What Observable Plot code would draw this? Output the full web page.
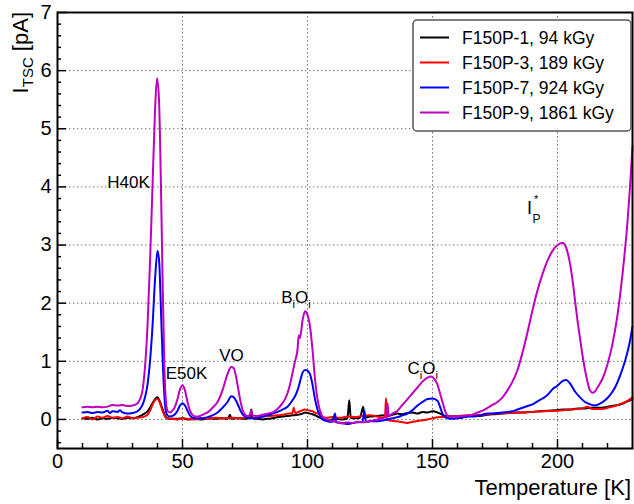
<!DOCTYPE html>
<html><head><meta charset="utf-8">
<script src="https://cdn.jsdelivr.net/npm/d3@7"></script>
<script src="https://cdn.jsdelivr.net/npm/@observablehq/plot@0.6"></script>
<style>body{margin:0;background:#fff} svg{display:block}</style>
</head><body><div id="chart"></div>
<script>
const seriesNames = ["F150P-1, 94 kGy", "F150P-3, 189 kGy", "F150P-7, 924 kGy", "F150P-9, 1861 kGy"];
const seriesColors = ["#000000", "#ff0000", "#0000ff", "#c000c0"];

// [Temperature K, I_TSC pA]
const f150p1 = [[10,0.02],[12,0.01],[14,0.03],[16,0.0],[18,0.02],[20,0.01],[22,0.03],[24,0.02],[26,0.01],[28,0.03],[30,0.02],[32,0.04],[34,0.08],[36,0.14],[37,0.2],[38,0.28],[39,0.35],[40,0.38],[41,0.3],[42,0.18],[43,0.07],[44,0.02],[46,0.01],[48,0.01],[50,0.02],[52,0.0],[55,0.01],[58,0.0],[60,0.02],[63,0.01],[66,0.02],[68,0.01],[69,0.08],[69.5,0.01],[72,0.02],[75,0.01],[77,0.03],[77.5,0.17],[78,0.02],[80,0.01],[82,0.0],[84,0.01],[86,0.02],[88,0.04],[90,0.05],[92,0.06],[94,0.07],[96,0.08],[98,0.1],[99,0.12],[100,0.11],[102,0.09],[104,0.05],[106,0.01],[108,-0.01],[110,0.0],[112,0.01],[114,0.0],[116,0.02],[116.7,0.33],[117.3,0.03],[119,0.02],[121,0.03],[122.3,0.22],[122.8,0.03],[125,0.05],[128,0.06],[130,0.07],[132,0.06],[134,0.08],[136,0.1],[138,0.09],[140,0.11],[142,0.12],[144,0.1],[146,0.13],[148,0.12],[150,0.14],[152,0.12],[154,0.08],[156,0.05],[158,0.05],[160,0.06],[163,0.05],[166,0.07],[169,0.06],[172,0.08],[175,0.09],[178,0.1],[181,0.11],[184,0.12],[187,0.12],[190,0.13],[193,0.14],[196,0.15],[199,0.16],[202,0.17],[205,0.17],[208,0.19],[211,0.19],[214,0.2],[217,0.2],[220,0.22],[223,0.24],[226,0.27],[228,0.31],[230,0.35]];
const f150p3 = [[10,0.02],[12,0.04],[14,0.0],[16,0.05],[18,0.03],[20,0.06],[22,0.03],[24,0.04],[26,0.02],[28,0.05],[30,0.02],[32,0.03],[34,0.04],[36,0.08],[37,0.15],[38,0.25],[39,0.33],[40,0.35],[41,0.28],[42,0.15],[43,0.05],[44,0.01],[46,0.01],[48,0.0],[50,0.02],[52,0.01],[55,0.0],[58,0.02],[60,0.01],[63,0.03],[66,0.02],[70,0.03],[73,0.02],[76,0.04],[79,0.03],[82,0.05],[85,0.06],[88,0.07],[90,0.08],[92,0.1],[94,0.11],[94.5,0.2],[95,0.11],[97,0.14],[99,0.17],[100,0.16],[102,0.14],[104,0.1],[105,0.15],[105.5,0.06],[107,0.03],[110,0.04],[113,0.03],[116,0.05],[119,0.04],[122,0.06],[125,0.07],[128,0.05],[130,0.03],[131,0.05],[131.4,0.37],[131.8,0.0],[133,-0.02],[135,-0.03],[137,-0.04],[140,-0.06],[142,-0.04],[145,-0.02],[148,0.0],[150,0.02],[153,0.04],[156,0.05],[160,0.06],[165,0.07],[170,0.08],[175,0.1],[180,0.11],[185,0.12],[190,0.13],[195,0.14],[200,0.15],[205,0.17],[210,0.19],[212,0.22],[214,0.18],[217,0.18],[220,0.2],[223,0.23],[226,0.28],[228,0.32],[230,0.38]];
const f150p7 = [[10,0.12],[12,0.13],[14,0.11],[16,0.13],[18,0.12],[20,0.15],[21,0.11],[22,0.14],[24,0.13],[25,0.16],[26,0.12],[28,0.1],[30,0.11],[32,0.14],[33,0.18],[34,0.25],[35,0.38],[36,0.6],[37,1.0],[38,1.6],[39,2.4],[40,2.9],[40.7,2.7],[41.3,2.0],[42,1.1],[42.7,0.45],[43.3,0.15],[44,0.07],[45,0.05],[46,0.06],[47,0.09],[48,0.15],[49,0.24],[50,0.28],[51,0.24],[52,0.15],[53,0.07],[54,0.03],[56,0.02],[58,0.02],[60,0.04],[62,0.07],[64,0.12],[66,0.2],[68,0.3],[69.5,0.4],[70.5,0.38],[72,0.27],[73,0.17],[74,0.09],[75,0.05],[76,0.03],[78,0.02],[80,0.03],[82,0.05],[84,0.07],[86,0.1],[88,0.13],[90,0.17],[92,0.22],[94,0.33],[95,0.4],[96,0.5],[97,0.65],[98,0.8],[99,0.85],[100,0.84],[101,0.78],[102,0.6],[103,0.35],[104,0.17],[105,0.06],[106,0.0],[108,-0.03],[110,-0.04],[111,0.1],[111.5,-0.05],[114,-0.06],[116,-0.08],[118,-0.06],[120,-0.05],[122,-0.04],[122.8,0.15],[123.3,-0.04],[125,-0.03],[128,-0.03],[130,-0.02],[132,0.0],[134,0.02],[136,0.04],[138,0.07],[140,0.1],[142,0.16],[144,0.24],[146,0.3],[148,0.35],[150,0.36],[152,0.32],[153,0.22],[154,0.1],[155,0.04],[156,0.02],[158,0.01],[160,0.02],[162,0.03],[164,0.05],[166,0.05],[168,0.06],[170,0.08],[172,0.1],[174,0.1],[176,0.11],[178,0.12],[180,0.13],[182,0.14],[184,0.17],[186,0.2],[188,0.23],[190,0.26],[192,0.31],[194,0.36],[196,0.42],[198,0.52],[200,0.58],[202,0.66],[203.5,0.68],[205,0.62],[207,0.48],[209,0.38],[211,0.3],[213,0.26],[215,0.24],[217,0.27],[219,0.33],[221,0.42],[223,0.55],[225,0.75],[227,1.0],[229,1.35],[230,1.6]];
const f150p9 = [[10,0.21],[12,0.22],[14,0.21],[16,0.22],[18,0.21],[20,0.22],[22,0.25],[24,0.24],[26,0.25],[28,0.23],[30,0.24],[32,0.28],[33,0.35],[34,0.5],[35,0.9],[36,1.6],[37,2.7],[38,4.0],[39,5.3],[39.8,5.87],[40.6,5.5],[41.3,4.2],[42,2.5],[42.7,1.0],[43.3,0.35],[44,0.15],[45,0.12],[46,0.15],[47,0.22],[48,0.35],[49,0.52],[50,0.59],[51,0.5],[52,0.3],[53,0.15],[54,0.08],[55,0.05],[56,0.05],[57,0.06],[58,0.08],[59,0.1],[60,0.12],[62,0.2],[64,0.3],[66,0.5],[68,0.78],[69.5,0.9],[70.5,0.88],[72,0.6],[73,0.35],[74,0.17],[75,0.08],[76,0.06],[77,0.08],[77.5,0.16],[78,0.07],[80,0.06],[82,0.08],[84,0.1],[86,0.12],[88,0.18],[90,0.28],[91,0.35],[92,0.45],[93,0.6],[94,0.8],[95,1.0],[96,1.2],[96.5,1.45],[97,1.4],[98,1.7],[99,1.86],[100,1.8],[101,1.6],[102,1.2],[103,0.7],[104,0.35],[105,0.15],[106,0.05],[108,0.0],[110,-0.03],[112,-0.05],[114,-0.07],[116,-0.05],[118,-0.06],[120,-0.04],[122,-0.05],[124,-0.04],[126,-0.02],[128,0.0],[130,0.02],[131.5,0.05],[132,0.28],[132.5,0.06],[134,0.1],[136,0.15],[138,0.25],[140,0.35],[142,0.45],[144,0.55],[146,0.65],[148,0.72],[149.5,0.74],[151,0.68],[152,0.6],[153,0.45],[154,0.3],[155,0.15],[156,0.07],[158,0.05],[160,0.05],[162,0.06],[164,0.07],[166,0.08],[168,0.12],[170,0.15],[172,0.2],[174,0.25],[176,0.3],[178,0.38],[180,0.5],[182,0.65],[184,0.85],[186,1.15],[188,1.5],[190,1.88],[192,2.22],[194,2.5],[196,2.73],[198,2.9],[200,3.0],[202,3.04],[203,3.0],[204,2.88],[205,2.68],[206,2.4],[207,2.05],[208,1.7],[209,1.4],[210,1.1],[211,0.85],[212,0.65],[213,0.5],[214,0.46],[215,0.48],[216,0.55],[218,0.7],[220,0.95],[222,1.3],[224,1.8],[226,2.5],[228,3.4],[229,4.0],[230,4.7]];

const xMajorTicks = [0, 50, 100, 150, 200];
const xMinorTicks = [10,20,30,40,60,70,80,90,110,120,130,140,160,170,180,190,210,220];
const yMajorTicks = [0, 1, 2, 3, 4, 5, 6, 7];
const yMinorTicks = [-0.4,-0.2,0.2,0.4,0.6,0.8,1.2,1.4,1.6,1.8,2.2,2.4,2.6,2.8,3.2,3.4,3.6,3.8,4.2,4.4,4.6,4.8,5.2,5.4,5.6,5.8,6.2,6.4,6.6,6.8];
const xGrid = [50, 100, 150, 200];
const yGrid = [0, 1, 2, 3, 4, 5, 6];

// annotation labels: segments [text, kind], anchored at (T, I)
const annotations = [
  {seg: [["H40K", ""]], T: 20.1, I: 3.98},
  {seg: [["E50K", ""]], T: 43.5, I: 0.69},
  {seg: [["VO", ""]], T: 64.9, I: 1.0},
  {seg: [["B", ""], ["i", "sub"], ["O", ""], ["i", "sub"]], T: 89.7, I: 2.0},
  {seg: [["C", ""], ["i", "sub"], ["O", ""], ["i", "sub"]], T: 140.2, I: 0.77},
];
const ipLabel = {T: 188, I: 3.53};

const all = [f150p1, f150p3, f150p7, f150p9];
const table = [];
all.forEach((arr, k) => arr.forEach(([T, I]) => table.push({series: seriesNames[k], T, I})));

const font = "'Liberation Sans', Arial, Helvetica, sans-serif";

const chart = Plot.plot({
  width: 634, height: 504,
  marginLeft: 57, marginRight: 2, marginTop: 12, marginBottom: 56,
  x: {domain: [0, 230]},
  y: {domain: [-0.5, 7]},
  color: {domain: seriesNames, range: seriesColors},
  style: {fontFamily: font, fontSize: "20px", background: "white", color: "black"},
  marks: [
    Plot.gridY(yGrid, {stroke: "#000", strokeOpacity: 0.55, strokeDasharray: "1.5,2.5"}),
    Plot.gridX(xGrid, {stroke: "#000", strokeOpacity: 0.55, strokeDasharray: "1.5,2.5"}),
    Plot.line(table, {x: "T", y: "I", z: "series", stroke: "series", strokeWidth: 2, curve: "monotone-x"}),
    Plot.axisY(yMinorTicks, {tickSize: -4, text: null, label: null, strokeWidth: 1.5}),
    Plot.axisY(yMajorTicks, {tickSize: -9, text: null, label: null, strokeWidth: 1.5}),
    Plot.axisY(yMajorTicks, {tickSize: 0, tickPadding: 6, label: null, fontSize: 20, tickFormat: d => String(d)}),
    Plot.axisX(xMinorTicks, {tickSize: -5, text: null, label: null, strokeWidth: 1.5}),
    Plot.axisX(xMajorTicks, {tickSize: -9, text: null, label: null, strokeWidth: 1.5}),
    Plot.axisX(xMajorTicks, {tickSize: 0, tickPadding: 5, label: null, fontSize: 20, tickFormat: d => String(d)}),
    Plot.frame({stroke: "#000", strokeWidth: 2})
  ]
});
document.getElementById("chart").appendChild(chart);

const sx = chart.scale("x"), sy = chart.scale("y");
const svg = d3.select(chart);

// annotations
const ann = svg.append("g").attr("font-family", font).attr("fill", "#000").attr("text-anchor", "start");
annotations.forEach(a => {
  const t = ann.append("text").attr("x", sx.apply(a.T)).attr("y", sy.apply(a.I)).attr("font-size", 17);
  let shifted = false;
  a.seg.forEach(([s, kind]) => {
    const ts = t.append("tspan").text(s);
    if (kind === "sub") { ts.attr("font-size", 11).attr("dy", 5); shifted = true; }
    else if (shifted) { ts.attr("dy", -5); shifted = false; }
  });
});
{
  const x0 = sx.apply(ipLabel.T), y0 = sy.apply(ipLabel.I);
  ann.append("text").attr("x", x0).attr("y", y0).attr("font-size", 18).text("I");
  ann.append("text").attr("x", x0 + 5.5).attr("y", y0 + 9).attr("font-size", 12).text("P");
  ann.append("text").attr("x", x0 + 7).attr("y", y0 - 11).attr("font-size", 11).text("*");
}

// axis titles
svg.append("text").attr("x", 631).attr("y", 495).attr("text-anchor", "end")
  .attr("font-family", font).attr("font-size", 22).attr("fill", "#000").text("Temperature [K]");
const yt = svg.append("text").attr("transform", "translate(28,12) rotate(-90)")
  .attr("text-anchor", "end").attr("font-family", font).attr("font-size", 22).attr("fill", "#000");
yt.append("tspan").text("I");
yt.append("tspan").attr("font-size", 15).attr("dy", 5).text("TSC");
yt.append("tspan").attr("dy", -5).text(" [pA]");

// legend
const lg = svg.append("g").attr("font-family", font).attr("text-anchor", "start");
lg.append("rect").attr("x", 413).attr("y", 20).attr("width", 218).attr("height", 111)
  .attr("rx", 4).attr("fill", "white").attr("stroke", "#555").attr("stroke-width", 1.5);
seriesNames.forEach((name, k) => {
  const yy = 37.5 + k * 25;
  lg.append("line").attr("x1", 420).attr("x2", 449).attr("y1", yy).attr("y2", yy)
    .attr("stroke", seriesColors[k]).attr("stroke-width", 2);
  lg.append("text").attr("x", 462).attr("y", yy).attr("dy", "0.35em")
    .attr("font-size", 17.5).attr("fill", "#000").text(name);
});
</script></body></html>
